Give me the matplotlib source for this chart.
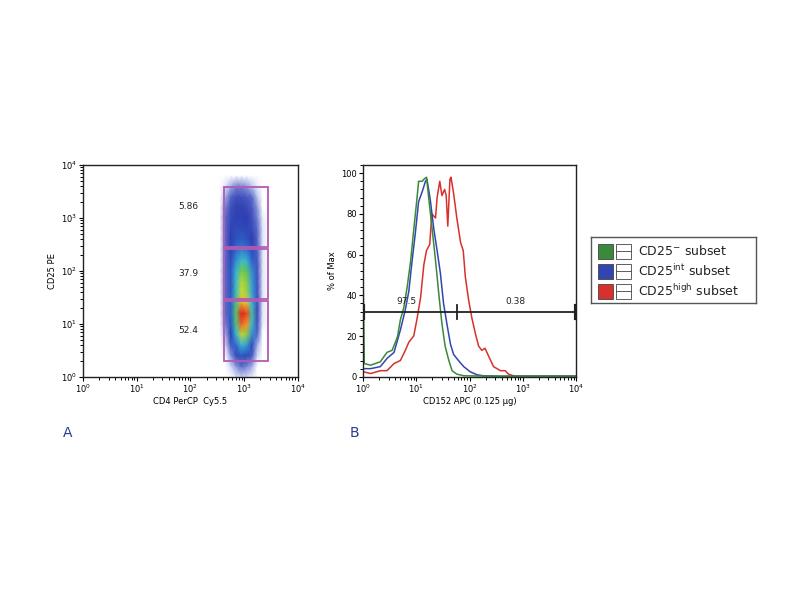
import numpy as np
import matplotlib.pyplot as plt
from matplotlib.colors import LinearSegmentedColormap
from matplotlib.patches import Rectangle
from matplotlib.ticker import AutoMinorLocator

plt.rcParams['font.family'] = ['DejaVu Sans']

# ---- panel A : CD4 vs CD25 density (grid nodes in log10 units, density 0..1)
cd4_log = [2.55, 2.65, 2.75, 2.85, 2.95, 3.05, 3.15, 3.25, 3.35, 3.45]
cd25_log = [0.0, 0.2, 0.4, 0.6, 0.8, 1.0, 1.2, 1.4, 1.6, 1.8,
            2.0, 2.2, 2.4, 2.6, 2.8, 3.0, 3.2, 3.4, 3.6, 3.8]
density = [
    [0, 0.00, 0.00, 0.03, 0.05, 0.04, 0.02, 0.00, 0.00, 0],
    [0, 0.00, 0.04, 0.10, 0.14, 0.12, 0.08, 0.00, 0.00, 0],
    [0, 0.00, 0.10, 0.22, 0.30, 0.28, 0.18, 0.04, 0.00, 0],
    [0, 0.04, 0.18, 0.34, 0.45, 0.42, 0.28, 0.08, 0.00, 0],
    [0, 0.08, 0.25, 0.45, 0.65, 0.60, 0.40, 0.15, 0.00, 0],
    [0, 0.12, 0.30, 0.52, 0.85, 0.80, 0.48, 0.20, 0.02, 0],
    [0, 0.14, 0.32, 0.55, 0.92, 0.88, 0.50, 0.22, 0.03, 0],
    [0, 0.14, 0.32, 0.52, 0.75, 0.72, 0.46, 0.22, 0.03, 0],
    [0, 0.14, 0.30, 0.48, 0.66, 0.62, 0.43, 0.20, 0.03, 0],
    [0, 0.14, 0.30, 0.47, 0.64, 0.60, 0.42, 0.20, 0.03, 0],
    [0, 0.14, 0.30, 0.45, 0.58, 0.55, 0.40, 0.20, 0.03, 0],
    [0, 0.14, 0.28, 0.40, 0.48, 0.45, 0.33, 0.18, 0.03, 0],
    [0, 0.14, 0.26, 0.34, 0.38, 0.36, 0.28, 0.16, 0.03, 0],
    [0, 0.14, 0.25, 0.30, 0.32, 0.30, 0.25, 0.15, 0.03, 0],
    [0, 0.14, 0.24, 0.28, 0.28, 0.27, 0.22, 0.14, 0.03, 0],
    [0, 0.14, 0.22, 0.26, 0.26, 0.25, 0.20, 0.12, 0.02, 0],
    [0, 0.12, 0.20, 0.24, 0.24, 0.22, 0.18, 0.10, 0.00, 0],
    [0, 0.08, 0.15, 0.20, 0.20, 0.18, 0.14, 0.06, 0.00, 0],
    [0, 0.03, 0.08, 0.12, 0.12, 0.10, 0.06, 0.02, 0.00, 0],
    [0, 0.00, 0.00, 0.00, 0.00, 0.00, 0.00, 0.00, 0.00, 0],
]

gate_cd4 = (415, 2750)
gate_cd25 = [(2.0, 27), (29.5, 257), (288, 3800)]
gate_pct = ['52.4', '37.9', '5.86']
gate_pct_y = [7.6, 90, 1630]
gate_pct_x = 91

# ---- panel B : CD152 histograms (% of max)
green_x = [1.0, 1.05, 1.38, 2.1, 2.8, 3.5, 4.4, 5.0, 5.8, 6.7, 7.8, 8.9, 10.2, 11.0, 12.9,
           13.8, 15.5, 17.0, 19.5, 22.9, 26.3, 30.2, 34.7, 40.7, 46.8, 57.5, 78, 316, 10000]
green_y = [46, 6.5, 5.7, 7.4, 12, 13, 19.6, 28, 34, 44, 57, 72, 87, 96, 96,
           97, 98, 88, 74, 57, 41, 26, 15, 8, 3, 1.3, 0.5, 0.3, 0.3]

blue_x = [1.0, 1.38, 2.1, 2.8, 3.8, 5.0, 6.2, 7.2, 8.3, 9.5, 11.0, 12.9, 14.8, 15.8, 18.2,
          21.4, 24.5, 28.2, 32.4, 38.0, 43.7, 50, 61.7, 77.6, 102, 138, 182, 400, 10000]
blue_y = [4, 4, 5, 9, 12, 23, 33, 42, 57, 70, 86, 91, 96, 97, 87,
          72, 62, 51, 36, 25, 16, 11, 8, 5, 2.5, 1, 0.5, 0.3, 0.3]

red_x = [1.0, 1.38, 2.1, 2.8, 3.8, 5.0, 6.2, 7.2, 8.9, 10.2, 12.0, 13.8, 15.5, 17.8, 19.5,
         22.9, 24.5, 27.5, 30.2, 33.9, 36.3, 38.9, 42.7, 44.7, 50.1, 57.5, 67.6, 75.9, 83.2,
         95.5, 110, 129, 148, 170, 195, 229, 282, 380, 468, 537, 708, 10000]
red_y = [2.5, 1.6, 3, 3, 6.5, 8, 13, 17, 20, 28, 39, 55, 62, 65, 80,
         78, 88, 96, 89, 92, 89, 74, 97, 98, 90, 78, 66, 62, 49,
         38, 29, 21, 15, 13, 14, 10, 5, 3, 3, 1.3, 0.3, 0.3]

marker_split = 58
marker_y = 32
marker_pct = ['97.5', '0.38']
marker_pct_x = [6.5, 720]

legend_labels = [r'CD25$^{\mathrm{-}}$ subset', r'CD25$^{\mathrm{int}}$ subset', r'CD25$^{\mathrm{high}}$ subset']
legend_colors = ['#3a8a3a', '#3346b0', '#d8302c']

fig = plt.figure(figsize=(8, 6), dpi=100)
axA = fig.add_axes([0.104, 0.372, 0.268, 0.353])
axB = fig.add_axes([0.454, 0.372, 0.266, 0.353])

flow_cmap = LinearSegmentedColormap.from_list('flow', [
    (0.0, 'white'), (0.06, '#bcc4ee'), (0.14, '#5868c8'), (0.25, '#2e3eb2'), (0.36, '#3070d0'),
    (0.46, '#38b8d8'), (0.56, '#60c458'), (0.68, '#d8e034'), (0.8, '#f29428'),
    (0.92, '#e0221e'), (1.0, '#d01818')])

X, Y = np.meshgrid(10 ** np.array(cd4_log), 10 ** np.array(cd25_log))
axA.pcolormesh(X, Y, np.array(density), shading='gouraud', cmap=flow_cmap, vmin=0, vmax=1)
for lo, hi in gate_cd25:
    axA.add_patch(Rectangle((gate_cd4[0], lo), gate_cd4[1] - gate_cd4[0], hi - lo,
                            fill=False, ec='#b45ab4', lw=1.3))
for txt, yv in zip(gate_pct, gate_pct_y):
    axA.text(gate_pct_x, yv, txt, fontsize=6.5, ha='center', va='center', color='#222222')

axA.set_xscale('log')
axA.set_yscale('log')
axA.set_xlim(1, 1e4)
axA.set_ylim(1, 1e4)
axA.set_xlabel('CD4 PerCP  Cy5.5', fontsize=6, labelpad=1)
axA.set_ylabel('CD25 PE', fontsize=6, labelpad=3)

axB.plot(red_x, red_y, color=legend_colors[2], lw=1.1)
axB.plot(blue_x, blue_y, color=legend_colors[1], lw=1.1)
axB.plot(green_x, green_y, color=legend_colors[0], lw=1.1)

# gate markers
axB.plot([1, 1e4], [marker_y, marker_y], color='#222222', lw=1.3)
axB.plot([1, 1], [marker_y - 3, marker_y + 3], color='#222222', lw=3)
axB.plot([1e4, 1e4], [marker_y - 3, marker_y + 3], color='#222222', lw=3)
axB.plot([marker_split, marker_split], [marker_y - 3.5, marker_y + 3.5], color='#222222', lw=1.3)
for txt, xv in zip(marker_pct, marker_pct_x):
    axB.text(xv, marker_y + 5, txt, fontsize=6.5, ha='center', va='center', color='#222222')

axB.set_xscale('log')
axB.set_xlim(1, 1e4)
axB.set_ylim(0, 104)
axB.set_yticks([0, 20, 40, 60, 80, 100])
axB.yaxis.set_minor_locator(AutoMinorLocator(5))
axB.set_xlabel('CD152 APC (0.125 µg)', fontsize=6, labelpad=1)
axB.set_ylabel('% of Max', fontsize=6, labelpad=3)

for ax in (axA, axB):
    for s in ax.spines.values():
        s.set_linewidth(1.0)
        s.set_color('#222222')
    ax.tick_params(which='major', direction='out', length=3, width=0.8, labelsize=6, pad=1.5)
    ax.tick_params(which='minor', direction='out', length=2, width=0.7)

fig.text(63 / 800, 1 - 433 / 600, 'A', fontsize=10, color='#2b3a8c', va='center')
fig.text(350 / 800, 1 - 433 / 600, 'B', fontsize=10, color='#2b3a8c', va='center')

# legend box drawn in pixel units
axL = fig.add_axes([591 / 800, 1 - 303 / 600, 165 / 800, 66 / 600])
axL.set_xlim(0, 165)
axL.set_ylim(66, 0)
axL.set_xticks([])
axL.set_yticks([])
for s in axL.spines.values():
    s.set_linewidth(1.0)
    s.set_color('#555555')
for i, (lab, col) in enumerate(zip(legend_labels, legend_colors)):
    yc = 14 + 20 * i
    axL.add_patch(Rectangle((7, yc - 7.5), 15, 15, fc=col, ec='#444444', lw=0.6))
    axL.add_patch(Rectangle((25, yc - 7.5), 15, 15, fc='white', ec='#444444', lw=0.6))
    axL.plot([25, 40], [yc, yc], color='#444444', lw=0.6)
    axL.text(47, yc, lab, fontsize=9, va='center', color='#222222')

fig.savefig('out.png', dpi=100)
